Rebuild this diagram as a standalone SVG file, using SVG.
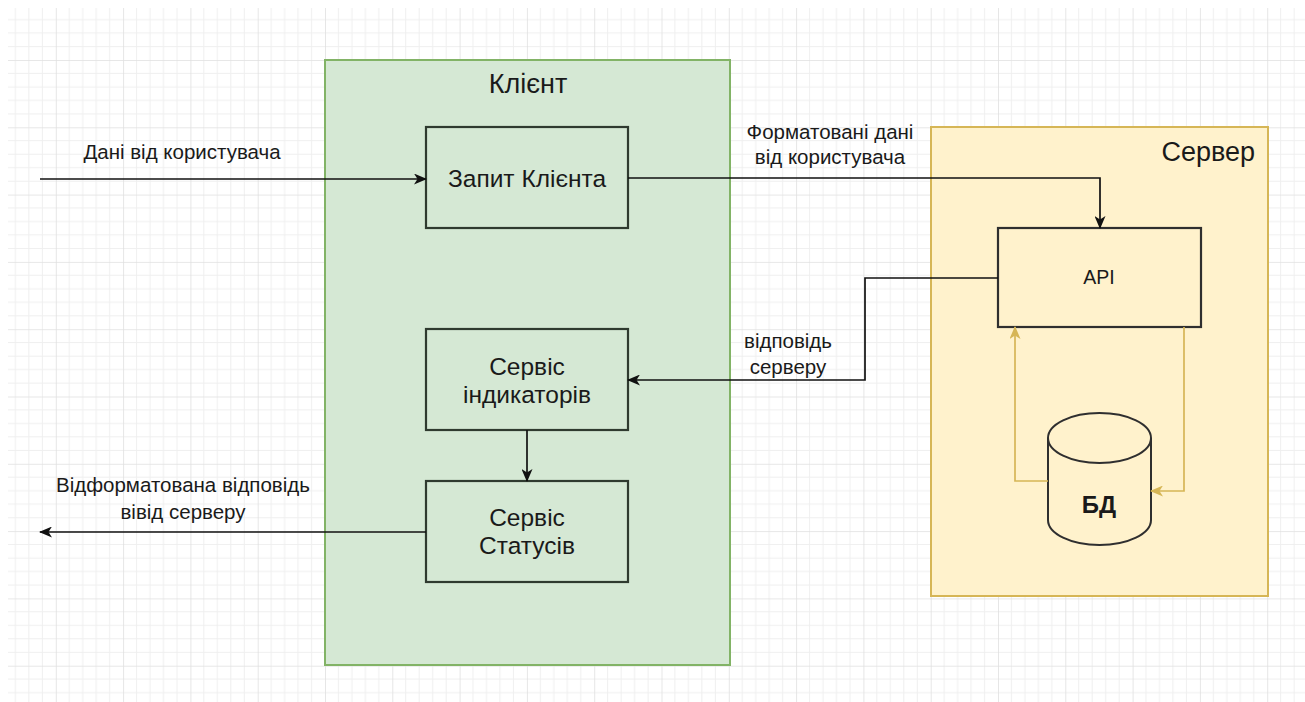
<svg xmlns="http://www.w3.org/2000/svg" width="1305" height="702" viewBox="0 0 1305 702">
  <style>
    .lbl { font-family: "Liberation Sans", Arial, sans-serif; fill: #1a1a1a; text-anchor: middle; }
    .node { font-size: 24.5px; }
    .title { font-size: 27px; }
    .edge-lbl { font-size: 20.5px; }
    .box { fill: #d5e8d4; stroke: #2f3a2f; stroke-width: 2.2; }
    .conn { fill: none; stroke: #111; stroke-width: 1.7; }
    .gold { fill: none; stroke: #d6b656; stroke-width: 1.7; }
  </style>
  <defs>
    <pattern id="grid" x="-11.5" y="-7.3" width="67.3" height="67.3" patternUnits="userSpaceOnUse">
      <path d="M13.46,0 V67.3 M26.92,0 V67.3 M40.38,0 V67.3 M53.84,0 V67.3 M0,13.46 H67.3 M0,26.92 H67.3 M0,40.38 H67.3 M0,53.84 H67.3" stroke="#efefef" stroke-width="1" fill="none"/>
      <path d="M0,0 V67.3 M0,0 H67.3" stroke="#e0e0e0" stroke-width="1.6" fill="none"/>
    </pattern>
    <marker id="arrow" viewBox="0 0 13 11" refX="12" refY="5.5" markerWidth="13" markerHeight="11" markerUnits="userSpaceOnUse" orient="auto">
      <path d="M0,0 L13,5.5 L0,11 L3.5,5.5 Z" fill="#111"/>
    </marker>
    <marker id="arrowGold" viewBox="0 0 13 11" refX="12" refY="5.5" markerWidth="13" markerHeight="11" markerUnits="userSpaceOnUse" orient="auto">
      <path d="M0,0 L13,5.5 L0,11 L3.5,5.5 Z" fill="#d6b656"/>
    </marker>
  </defs>

  <rect x="0" y="0" width="1305" height="702" fill="#ffffff"/>
  <rect x="8" y="8" width="1297" height="694" fill="url(#grid)"/>

  <g id="client">
    <rect x="325" y="60" width="405" height="605" fill="#d5e8d4" stroke="#82b366" stroke-width="2"/>
    <text class="lbl title" x="528" y="93">Клієнт</text>
  </g>

  <g id="server">
    <rect x="931" y="127" width="337" height="469" fill="#fff2cc" stroke="#d6b656" stroke-width="2"/>
    <text class="lbl title" x="1255" y="161" style="text-anchor:end">Сервер</text>
  </g>

  <g id="client-request">
    <rect class="box" x="426" y="127" width="202" height="101"/>
    <text class="lbl node" x="527" y="187">Запит Клієнта</text>
  </g>

  <g id="indicator-service">
    <rect class="box" x="426" y="329" width="202" height="101"/>
    <text class="lbl node" x="527" y="375">Сервіс</text>
    <text class="lbl node" x="527" y="403">індикаторів</text>
  </g>

  <g id="status-service">
    <rect class="box" x="426" y="481" width="202" height="101"/>
    <text class="lbl node" x="527" y="526">Сервіс</text>
    <text class="lbl node" x="527" y="554">Статусів</text>
  </g>

  <g id="api">
    <rect x="998" y="228" width="203" height="99" fill="#fff2cc" stroke="#2f2f2f" stroke-width="2.2"/>
    <text class="lbl" x="1099" y="284" style="font-size:19.5px">API</text>
  </g>

  <g id="db">
    <path d="M1048,438 V520 A51.5,25 0 0 0 1151,520 V438" fill="#fff2cc" stroke="#2f2f2f" stroke-width="2"/>
    <ellipse cx="1099.5" cy="438" rx="51.5" ry="25" fill="#fff2cc" stroke="#2f2f2f" stroke-width="2"/>
    <text class="lbl" x="1099" y="513" style="font-size:24px;font-weight:bold">БД</text>
  </g>

  <g id="connectors">
    <path class="conn" d="M40,179 H426" marker-end="url(#arrow)"/>
    <path class="conn" d="M628,178 H1100 V228" marker-end="url(#arrow)"/>
    <path class="conn" d="M998,278 H865 V380 H628" marker-end="url(#arrow)"/>
    <path class="conn" d="M527,430 V481" marker-end="url(#arrow)"/>
    <path class="conn" d="M426,532 H40" marker-end="url(#arrow)"/>
    <path class="gold" d="M1048,481 H1015 V327" marker-end="url(#arrowGold)"/>
    <path class="gold" d="M1184,327 V491 H1151" marker-end="url(#arrowGold)"/>

    <text class="lbl edge-lbl" x="182" y="159">Дані від користувача</text>
    <text class="lbl edge-lbl" x="830" y="139">Форматовані дані</text>
    <text class="lbl edge-lbl" x="830" y="164">від користувача</text>
    <text class="lbl edge-lbl" x="788" y="348">відповідь</text>
    <text class="lbl edge-lbl" x="788" y="374">серверу</text>
    <text class="lbl edge-lbl" x="183" y="492">Відформатована відповідь</text>
    <text class="lbl edge-lbl" x="183" y="519">вівід серверу</text>
  </g>
</svg>
